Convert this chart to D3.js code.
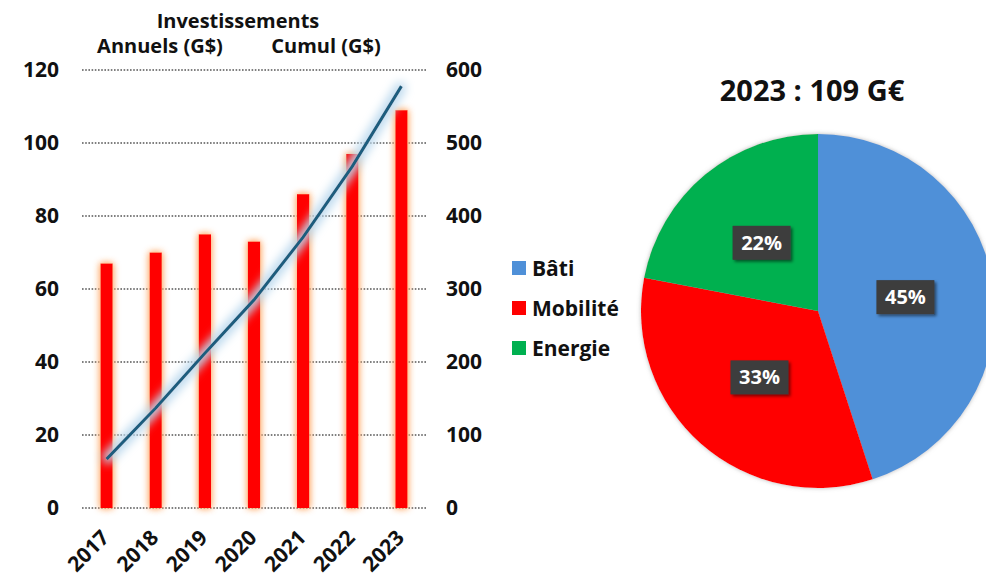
<!DOCTYPE html>
<html>
<head>
<meta charset="utf-8">
<script src="https://cdn.jsdelivr.net/npm/d3@7"></script>
<style>
  body { margin: 0; background: #fff; }
  text { font-family: "Open Sans", "Noto Sans", sans-serif; font-weight: bold; fill: #111; }
</style>
</head>
<body>
<div class="chart"></div>
<script>
// annual investments (left axis) and cumulative (right axis)
var years = ["2017", "2018", "2019", "2020", "2021", "2022", "2023"];
var annual = [67, 70, 75, 73, 86, 97, 109];
var cumul = [67, 137, 212, 285, 371, 468, 578];
var leftTicks = [0, 20, 40, 60, 80, 100, 120];
var rightTicks = [0, 100, 200, 300, 400, 500, 600];

// 2023 split
var sectors = ["Bâti", "Mobilité", "Energie"];
var shares = [45, 33, 22];
var sectorColors = ["#4f90d8", "#ff0000", "#00b050"];

var width = 986, height = 583;

var svg = d3.select(".chart")
    .append("svg")
    .attr("width", width)
    .attr("height", height);

var defs = svg.append("defs");

// orange glow round the bars
var barGlow = defs.append("filter")
    .attr("id", "barGlow")
    .attr("x", "-100%").attr("y", "-20%")
    .attr("width", "300%").attr("height", "140%");
barGlow.append("feGaussianBlur").attr("in", "SourceAlpha").attr("stdDeviation", 3.5).attr("result", "blur");
barGlow.append("feFlood").attr("flood-color", "#ffb47a").attr("result", "col");
barGlow.append("feComposite").attr("in", "col").attr("in2", "blur").attr("operator", "in").attr("result", "glow");
var m1 = barGlow.append("feMerge");
m1.append("feMergeNode").attr("in", "glow");
m1.append("feMergeNode").attr("in", "glow");
m1.append("feMergeNode").attr("in", "SourceGraphic");

// light blue glow round the line
var lineGlow = defs.append("filter")
    .attr("id", "lineGlow")
    .attr("filterUnits", "userSpaceOnUse")
    .attr("x", 0).attr("y", 0).attr("width", width).attr("height", height);
lineGlow.append("feMorphology").attr("in", "SourceAlpha").attr("operator", "dilate").attr("radius", 3).attr("result", "fat");
lineGlow.append("feGaussianBlur").attr("in", "fat").attr("stdDeviation", 5).attr("result", "blur");
lineGlow.append("feFlood").attr("flood-color", "#bcd9ee").attr("result", "col");
lineGlow.append("feComposite").attr("in", "col").attr("in2", "blur").attr("operator", "in").attr("result", "glow");
var m2 = lineGlow.append("feMerge");
m2.append("feMergeNode").attr("in", "glow");
m2.append("feMergeNode").attr("in", "SourceGraphic");

// shadow for the pie labels
var boxShadow = defs.append("filter").attr("id", "boxShadow")
    .attr("x", "-30%").attr("y", "-30%").attr("width", "160%").attr("height", "160%");
boxShadow.append("feDropShadow").attr("dx", 2).attr("dy", 2).attr("stdDeviation", 1.5)
    .attr("flood-color", "#000").attr("flood-opacity", 0.5);

var pieShadow = defs.append("filter").attr("id", "pieShadow")
    .attr("x", "-10%").attr("y", "-10%").attr("width", "120%").attr("height", "120%");
pieShadow.append("feDropShadow").attr("dx", 0).attr("dy", 0).attr("stdDeviation", 2)
    .attr("flood-color", "#888").attr("flood-opacity", 0.6);

// ---------- bar + line chart ----------
var xScale = d3.scaleBand()
    .domain(years)
    .range([82, 426])
    .paddingInner(0.75)
    .paddingOuter(0.375);

var yLeft = d3.scaleLinear().domain([0, 120]).range([508, 70]);
var yRight = d3.scaleLinear().domain([0, 600]).range([508, 70]);

// dotted grid
svg.append("g")
    .selectAll("line")
    .data(leftTicks)
    .enter()
    .append("line")
    .attr("x1", 82)
    .attr("x2", 426)
    .attr("y1", function (d) { return yLeft(d); })
    .attr("y2", function (d) { return yLeft(d); })
    .style("stroke", "#555")
    .style("stroke-width", 1.6)
    .style("stroke-dasharray", "1.6,1.6");

var leftAxis = svg.append("g")
    .attr("transform", "translate(82,0)")
    .call(d3.axisLeft(yLeft).tickValues(leftTicks).tickSize(0).tickPadding(23));
var rightAxis = svg.append("g")
    .attr("transform", "translate(426,0)")
    .call(d3.axisRight(yRight).tickValues(rightTicks).tickSize(0).tickPadding(20));
[leftAxis, rightAxis].forEach(function (a) {
    a.select(".domain").remove();
    a.selectAll("text")
        .style("font-size", "21px")
        .style("font-family", "'Open Sans', sans-serif")
        .style("font-weight", "bold")
        .style("fill", "#111");
});

svg.append("g")
    .selectAll("rect")
    .data(annual)
    .enter()
    .append("rect")
    .attr("x", function (d, i) { return xScale(years[i]); })
    .attr("width", xScale.bandwidth())
    .attr("y", function (d) { return yLeft(d); })
    .attr("height", function (d) { return yLeft(0) - yLeft(d); })
    .style("fill", "#ff0000")
    .style("filter", "url(#barGlow)");

var line = d3.line()
    .x(function (d, i) { return xScale(years[i]) + xScale.bandwidth() / 2; })
    .y(function (d) { return yRight(d); });

svg.append("path")
    .datum(cumul)
    .attr("d", line)
    .style("fill", "none")
    .style("stroke", "#1d5d7e")
    .style("stroke-width", 3.2)
    .style("filter", "url(#lineGlow)");

// rotated year labels
svg.append("g")
    .selectAll("text")
    .data(years)
    .enter()
    .append("text")
    .attr("transform", function (d) {
        return "translate(" + (xScale(d) + xScale.bandwidth() / 2 + 4) + ",539) rotate(-45)";
    })
    .attr("text-anchor", "end")
    .style("font-size", "21px")
    .text(function (d) { return d; });

svg.append("text").attr("x", 238).attr("y", 28).attr("text-anchor", "middle")
    .style("font-size", "20px").text("Investissements");
svg.append("text").attr("x", 160).attr("y", 53).attr("text-anchor", "middle")
    .style("font-size", "20px").text("Annuels (G$)");
svg.append("text").attr("x", 326).attr("y", 53).attr("text-anchor", "middle")
    .style("font-size", "20px").text("Cumul (G$)");

// ---------- legend ----------
var legend = svg.append("g")
    .selectAll("g")
    .data(sectors)
    .enter()
    .append("g")
    .attr("transform", function (d, i) { return "translate(512," + (261 + i * 40) + ")"; });
legend.append("rect")
    .attr("width", 14)
    .attr("height", 14)
    .style("fill", function (d, i) { return sectorColors[i]; });
legend.append("text")
    .attr("x", 20)
    .attr("y", 15)
    .style("font-size", "21px")
    .text(function (d) { return d; });

// ---------- pie ----------
var cx = 818, cy = 311, r = 177;

svg.append("text").attr("x", 812).attr("y", 101).attr("text-anchor", "middle")
    .style("font-size", "29px").text("2023 : 109 G€");

var pie = d3.pie().sort(null).value(function (d) { return d; });
var arc = d3.arc().innerRadius(0).outerRadius(r);
var arcs = pie(shares);

var pieG = svg.append("g").attr("transform", "translate(" + cx + "," + cy + ")");
pieG.append("g")
    .style("filter", "url(#pieShadow)")
    .selectAll("path")
    .data(arcs)
    .enter()
    .append("path")
    .attr("d", arc)
    .style("fill", function (d, i) { return sectorColors[i]; });

var labels = pieG.selectAll(".lbl")
    .data(arcs)
    .enter()
    .append("g")
    .attr("class", "lbl")
    .attr("transform", function (d) { return "translate(" + arc.centroid(d) + ")"; });
labels.append("rect")
    .attr("x", -29).attr("y", -17)
    .attr("width", 58).attr("height", 34)
    .style("fill", "#3c3c3c")
    .style("filter", "url(#boxShadow)");
labels.append("text")
    .attr("text-anchor", "middle")
    .attr("y", 7)
    .style("font-size", "20px")
    .style("fill", "#fff")
    .text(function (d) { return d.data + "%"; });
</script>
</body>
</html>
